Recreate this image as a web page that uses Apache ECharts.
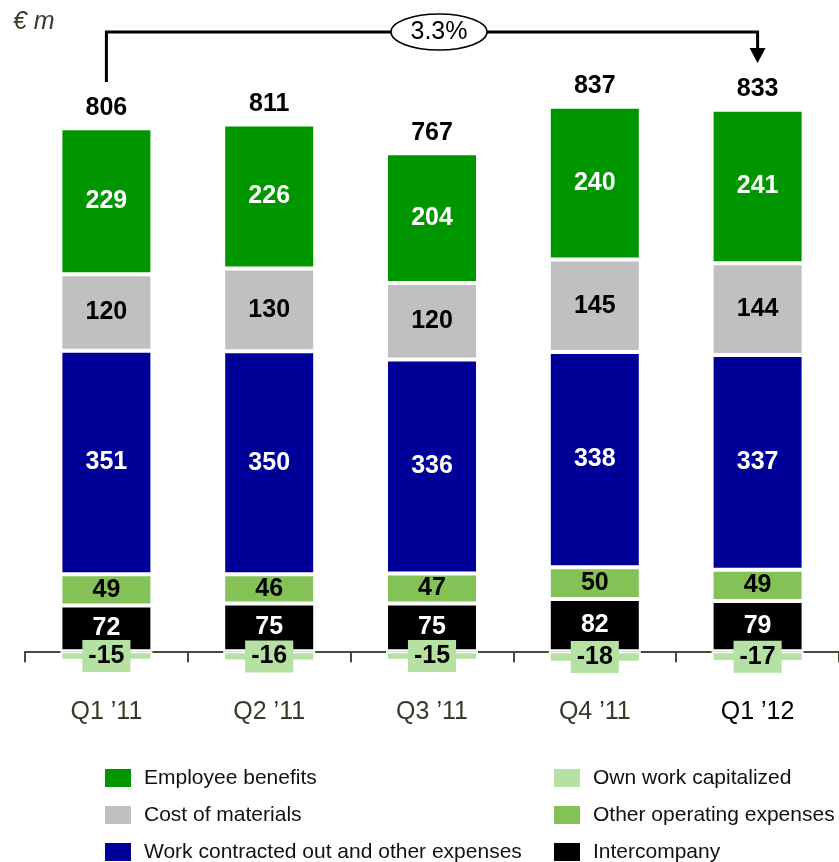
<!DOCTYPE html>
<html>
<head>
<meta charset="utf-8">
<script src="https://cdn.jsdelivr.net/npm/echarts@6/dist/echarts.min.js"></script>
<style>
  html, body { margin: 0; padding: 0; background: #fff; }
  #chart { width: 839px; height: 862px; }
</style>
</head>
<body>
<div id="chart"></div>
<script>
// Quarterly operating expenses, € m
const quarters = ['Q1 \u201911', 'Q2 \u201911', 'Q3 \u201911', 'Q4 \u201911', 'Q1 \u201912'];
const intercompany = [72, 75, 75, 82, 79];
const otherOperating = [49, 46, 47, 50, 49];
const workContracted = [351, 350, 336, 338, 337];
const costOfMaterials = [120, 130, 120, 145, 144];
const employeeBenefits = [229, 226, 204, 240, 241];
const ownWorkCapitalized = [-15, -16, -15, -18, -17];

const totals = quarters.map((_, i) =>
  intercompany[i] + otherOperating[i] + workContracted[i] +
  costOfMaterials[i] + employeeBenefits[i] + ownWorkCapitalized[i]);

const FONT = '"Liberation Sans", Arial, sans-serif';
const AXIS_COLOR = '#4a4a3c';

function segment(name, data, color, labelColor) {
  return {
    name: name,
    type: 'bar',
    stack: 'opex',
    data: data,
    barWidth: 92,
    itemStyle: { color: color, borderColor: '#ffffff', borderWidth: 2 },
    label: {
      show: true,
      position: 'inside',
      color: labelColor,
      fontFamily: FONT,
      fontWeight: 'bold',
      fontSize: 25
    },
    emphasis: { disabled: true }
  };
}

const chart = echarts.init(document.getElementById('chart'), null, { renderer: 'canvas' });

const legendText = { fontFamily: FONT, fontSize: 21, lineHeight: 20, color: '#111111', padding: [0, 0, 0, 7] };

function legendColumn(left, names) {
  return {
    orient: 'vertical',
    left: left,
    top: 767,
    height: 120,
    padding: 0,
    itemWidth: 28,
    itemHeight: 20,
    itemGap: 15,
    icon: 'rect',
    selectedMode: false,
    textStyle: legendText,
    data: names
  };
}

const ownWork = segment('Own work capitalized', ownWorkCapitalized, '#b5e2a2', '#000000');
ownWork.label.backgroundColor = '#b5e2a2';
ownWork.label.padding = [4, 6, 3, 6];

const option = {
  animation: false,
  backgroundColor: '#ffffff',
  grid: { left: 25, width: 826, top: 78, height: 592.4 },
  xAxis: {
    type: 'category',
    data: quarters,
    axisLine: { lineStyle: { color: AXIS_COLOR, width: 2 } },
    axisTick: { show: true, length: 11, lineStyle: { color: AXIS_COLOR, width: 2 } },
    axisLabel: {
      margin: 29,
      fontFamily: FONT,
      fontSize: 25,
      color: function (value, index) { return index === quarters.length - 1 ? '#000000' : '#3a3a2a'; }
    }
  },
  yAxis: {
    type: 'value',
    min: -30,
    max: 900,
    show: false,
    splitLine: { show: false }
  },
  legend: [
    legendColumn(103, ['Employee benefits', 'Cost of materials', 'Work contracted out and other expenses']),
    legendColumn(552, ['Own work capitalized', 'Other operating expenses', 'Intercompany'])
  ],
  series: [
    segment('Intercompany', intercompany, '#000000', '#ffffff'),
    segment('Other operating expenses', otherOperating, '#84c257', '#000000'),
    segment('Work contracted out and other expenses', workContracted, '#000099', '#ffffff'),
    segment('Cost of materials', costOfMaterials, '#c0c0c0', '#000000'),
    segment('Employee benefits', employeeBenefits, '#009600', '#ffffff'),
    {
      // zero-height carrier that places the quarter total above each stack
      name: 'Total',
      type: 'bar',
      stack: 'opex',
      stackStrategy: 'all',
      barWidth: 92,
      data: quarters.map(() => 0),
      itemStyle: { color: 'transparent' },
      label: {
        show: true,
        position: 'top',
        distance: 8,
        color: '#000000',
        fontFamily: FONT,
        fontWeight: 'bold',
        fontSize: 25,
        formatter: (p) => String(totals[p.dataIndex])
      },
      emphasis: { disabled: true }
    },
    ownWork
  ]
};

chart.setOption(option);

// Growth bracket from the first to the last quarter
const x0 = chart.convertToPixel({ xAxisIndex: 0 }, 0);
const x1 = chart.convertToPixel({ xAxisIndex: 0 }, quarters.length - 1);
const growth = ((totals[totals.length - 1] / totals[0] - 1) * 100).toFixed(1) + '%';
const lineY = 32;
const midX = (x0 + x1) / 2 + 7;

chart.setOption({
  graphic: [
    {
      type: 'text',
      left: 13,
      top: 10,
      style: { text: '\u20ac m', fontFamily: FONT, fontStyle: 'italic', fontSize: 25, fill: '#3a3a2a' }
    },
    {
      type: 'polyline',
      shape: { points: [[x0, 82], [x0, lineY], [x1, lineY], [x1, 50]] },
      style: { stroke: '#000000', lineWidth: 3, fill: null }
    },
    {
      type: 'polygon',
      shape: { points: [[x1 - 8, 48], [x1 + 8, 48], [x1, 63]] },
      style: { fill: '#000000' }
    },
    {
      type: 'ellipse',
      shape: { cx: midX, cy: lineY, rx: 48, ry: 18 },
      style: { fill: '#ffffff', stroke: '#000000', lineWidth: 1.5 }
    },
    {
      type: 'text',
      x: midX,
      y: lineY,
      style: {
        text: growth,
        fontFamily: FONT,
        fontSize: 25,
        fill: '#000000',
        align: 'center',
        verticalAlign: 'middle'
      }
    }
  ]
});
</script>
</body>
</html>
